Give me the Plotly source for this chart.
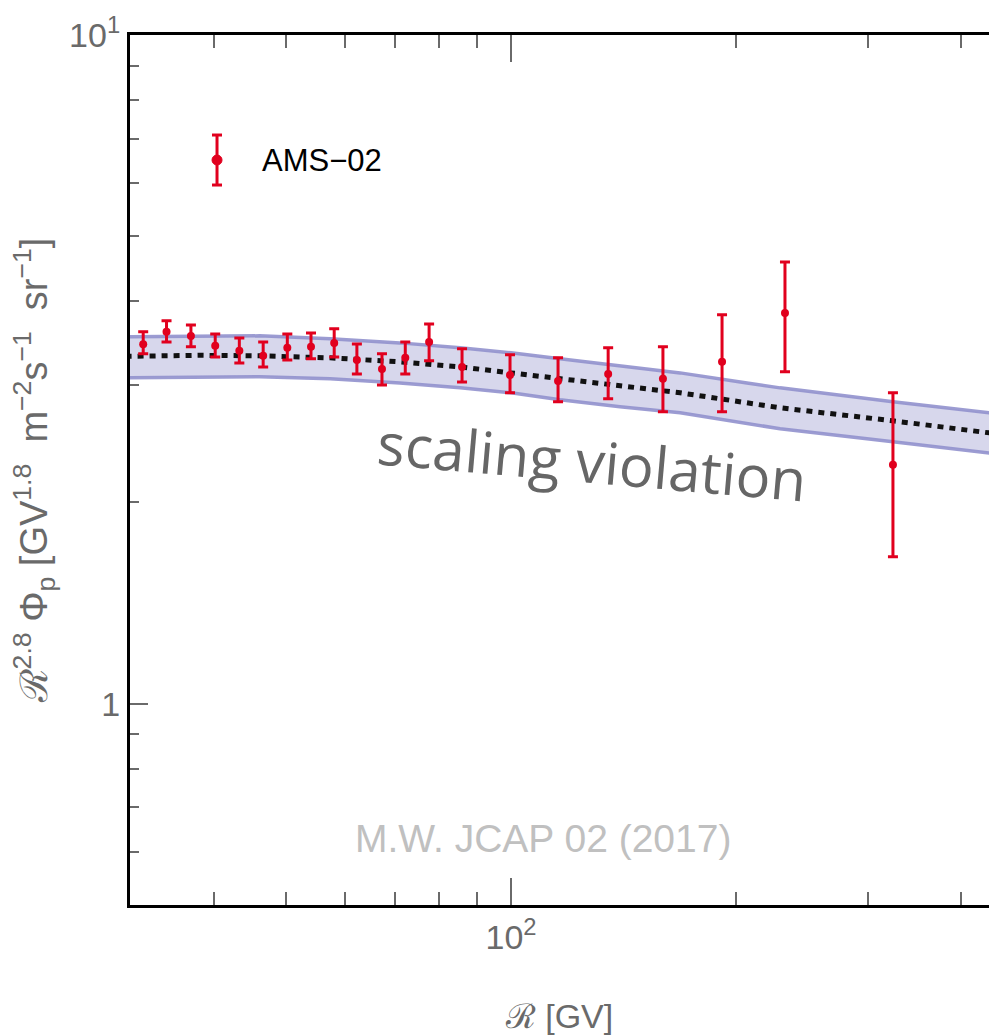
import plotly.graph_objects as go

# ---- data ----
rig = [32.2, 34.6, 37.3, 40.2, 43.3, 46.6, 50.2, 54.0, 58.0, 62.2, 67.2,
       72.2, 77.7, 86.0, 99.7, 115.6, 134.9, 159.7, 191.6, 232.6, 324.4]
flux = [3.449, 3.598, 3.548, 3.429, 3.370, 3.313, 3.406, 3.417, 3.464, 3.267, 3.167,
        3.290, 3.476, 3.189, 3.102, 3.039, 3.113, 3.061, 3.245, 3.841, 2.276]
flux_hi = [3.598, 3.737, 3.685, 3.573, 3.524, 3.476, 3.573, 3.585, 3.636, 3.452, 3.336,
           3.476, 3.698, 3.394, 3.325, 3.290, 3.406, 3.417, 3.815, 4.578, 2.917]
flux_lo = [3.336, 3.476, 3.417, 3.301, 3.233, 3.189, 3.267, 3.279, 3.301, 3.113, 2.997,
           3.113, 3.256, 3.028, 2.917, 2.828, 2.857, 2.732, 2.732, 3.135, 1.659]

model_rig = [30.5, 38.4, 46.1, 57.3, 71.0, 85.5, 100.0, 116.3, 139.9, 168.4, 206.9,
             229.1, 324.4, 450.0]
model_mid = [3.307, 3.319, 3.313, 3.290, 3.245, 3.189, 3.124, 3.061, 2.987, 2.917, 2.818,
             2.770, 2.649, 2.530]
model_up = [3.537, 3.549, 3.549, 3.513, 3.464, 3.406, 3.347, 3.279, 3.201, 3.124, 3.018,
            2.967, 2.828, 2.712]
model_dn = [3.072, 3.083, 3.083, 3.061, 3.018, 2.967, 2.917, 2.847, 2.780, 2.723, 2.621,
            2.577, 2.464, 2.362]

x_major = [100]
x_major_text = ["10<sup>2</sup>"]
x_minor = [40, 50, 60, 70, 80, 90, 200, 300, 400]
y_major = [1, 10]
y_major_text = ["1", "10<sup>1</sup>"]
y_minor = [0.6, 0.7, 0.8, 0.9, 2, 3, 4, 5, 6, 7, 8, 9]

RED = "#e1001e"
GRAY = "#6a6a6a"
NARROW = "Liberation Sans Narrow, Arial Narrow, Liberation Sans, Arial, sans-serif"

fig = go.Figure()

# band
fig.add_trace(go.Scatter(x=model_rig, y=model_dn, mode="lines",
                         line=dict(color="rgba(145,145,205,0.9)", width=3.5),
                         hoverinfo="skip", showlegend=False))
fig.add_trace(go.Scatter(x=model_rig, y=model_up, mode="lines", fill="tonexty",
                         fillcolor="rgba(215,215,236,1)",
                         line=dict(color="rgba(145,145,205,0.9)", width=3.5),
                         hoverinfo="skip", showlegend=False))
# central model
fig.add_trace(go.Scatter(x=model_rig, y=model_mid, mode="lines",
                         line=dict(color="#111111", width=5, dash="6px,6px"),
                         hoverinfo="skip", showlegend=False))
# data
err_plus = [h - f for h, f in zip(flux_hi, flux)]
err_minus = [f - l for f, l in zip(flux, flux_lo)]
fig.add_trace(go.Scatter(x=rig, y=flux, mode="markers", name="AMS-02",
                         marker=dict(color=RED, size=8),
                         error_y=dict(type="data", symmetric=False, array=err_plus,
                                      arrayminus=err_minus, color=RED,
                                      thickness=3, width=5),
                         showlegend=False))

# legend glyph (layout decoration)
lx, ly = 0.1013, 0.8563
shapes = [
    dict(type="line", xref="paper", yref="paper", xsizemode="pixel", ysizemode="pixel",
         xanchor=lx, yanchor=ly, x0=0, x1=0, y0=-26, y1=26, line=dict(color=RED, width=3)),
    dict(type="line", xref="paper", yref="paper", xsizemode="pixel", ysizemode="pixel",
         xanchor=lx, yanchor=ly, x0=-5, x1=5, y0=25, y1=25, line=dict(color=RED, width=3)),
    dict(type="line", xref="paper", yref="paper", xsizemode="pixel", ysizemode="pixel",
         xanchor=lx, yanchor=ly, x0=-5, x1=5, y0=-25, y1=-25, line=dict(color=RED, width=3)),
    dict(type="circle", xref="paper", yref="paper", xsizemode="pixel", ysizemode="pixel",
         xanchor=lx, yanchor=ly, x0=-5, x1=5, y0=-5, y1=5, fillcolor=RED,
         line=dict(color=RED, width=1)),
]

annotations = [
    dict(text="AMS\u221202", xref="paper", yref="paper", x=0.151, y=0.8563,
         xanchor="left", yanchor="middle", showarrow=False,
         font=dict(family=NARROW, size=31, color="black")),
    dict(text="scaling violation", xref="paper", yref="paper", x=0.538, y=0.511,
         xanchor="center", yanchor="middle", showarrow=False, textangle=5,
         font=dict(family="Open Sans, sans-serif", size=58, color="#666666")),
    dict(text="M.W. JCAP 02 (2017)", xref="paper", yref="paper", x=0.481, y=0.077,
         xanchor="center", yanchor="middle", showarrow=False,
         font=dict(family="Liberation Sans, Arial, sans-serif", size=39, color="#c0c0c0")),
]

fig.update_layout(
    width=989, height=1036,
    margin=dict(l=130, r=0, t=35, b=131),
    paper_bgcolor="white", plot_bgcolor="white",
    shapes=shapes, annotations=annotations,
    showlegend=False,
    xaxis=dict(type="log", range=[1.4902, 2.6396],
               showline=True, linecolor="black", linewidth=3, mirror="ticks",
               showgrid=False, zeroline=False,
               tickmode="array", tickvals=x_major, ticktext=x_major_text,
               ticks="inside", ticklen=27, tickwidth=2, tickcolor=GRAY,
               minor=dict(tickmode="array", tickvals=x_minor, ticks="inside",
                          ticklen=13, tickwidth=2, tickcolor=GRAY, showgrid=False),
               tickfont=dict(family=NARROW, size=34, color=GRAY),
               title=dict(text="\u211b [GV]", standoff=50,
                          font=dict(family=NARROW, size=34, color=GRAY))),
    yaxis=dict(type="log", range=[-0.30103, 1.0],
               showline=True, linecolor="black", linewidth=3, mirror=False,
               showgrid=False, zeroline=False,
               tickmode="array", tickvals=y_major, ticktext=y_major_text,
               ticks="inside", ticklen=18, tickwidth=2, tickcolor=GRAY,
               minor=dict(tickmode="array", tickvals=y_minor, ticks="inside",
                          ticklen=9, tickwidth=2, tickcolor=GRAY, showgrid=False),
               tickfont=dict(family=NARROW, size=34, color=GRAY),
               title=dict(text="\u211b<sup>2.8</sup> \u03a6<sub>p</sub> [GV<sup>1.8</sup>  m<sup>\u22122</sup>s<sup>\u22121</sup>  sr<sup>\u22121</sup>]",
                          standoff=10,
                          font=dict(family="Liberation Sans, Arial, sans-serif", size=38, color=GRAY))),
)

fig.write_html("out.html")
